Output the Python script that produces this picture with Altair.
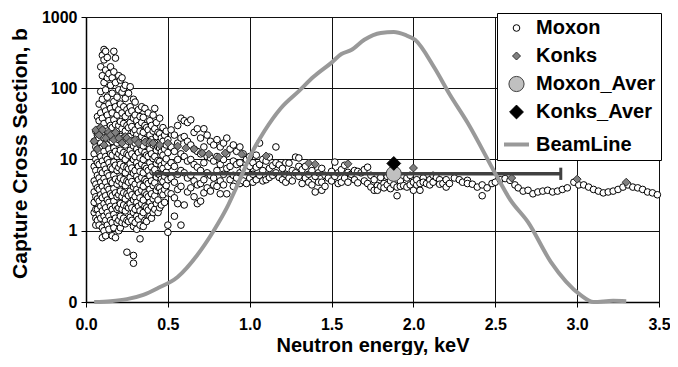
import altair as alt
import pandas as pd

# ---------------- data ----------------
series_names = ["Moxon", "Konks", "Moxon_Aver", "Konks_Aver", "BeamLine"]

# Moxon points, grouped by energy column (keV) -> cross sections (b)
moxon_low = [
    (0.05, [18, 12, 8, 5, 3.5, 2.5, 1.8]),
    (0.06, [25, 15, 10, 7, 4.5, 3, 2, 1.5, 1.2]),
    (0.07, [40, 22, 14, 9, 6, 4, 2.8, 2, 1.4]),
    (0.08, [60, 35, 20, 13, 8.5, 5.5, 3.8, 2.6, 1.7, 1.2]),
    (0.09, [200, 90, 45, 28, 17, 11, 7, 4.8, 3.2, 2.2, 1.5]),
    (0.10, [290, 150, 70, 38, 24, 15, 9.5, 6.5, 4.2, 2.9, 1.9, 1.1, 0.8]),
    (0.11, [350, 250, 120, 55, 32, 20, 13, 8.2, 5.4, 3.6, 2.4, 1.6, 1.0]),
    (0.12, [330, 180, 95, 48, 27, 17, 11, 7.3, 4.8, 3.1, 2.1, 1.4, 0.85]),
    (0.13, [270, 140, 75, 42, 25, 16, 10, 6.4, 4.1, 2.7, 1.8, 1.2]),
    (0.14, [160, 60, 35, 22, 14, 9, 5.9, 3.8, 2.5, 1.6, 1.05]),
    (0.15, [200, 110, 52, 30, 19, 12, 7.8, 5, 3.3, 2.2, 1.4]),
    (0.16, [140, 85, 45, 28, 18, 11.5, 7.4, 4.7, 3.1, 2, 1.3, 0.85]),
    (0.17, [330, 170, 65, 36, 23, 14.5, 9.2, 6, 3.9, 2.6, 1.7, 1.1]),
    (0.18, [265, 120, 55, 31, 20, 13, 8.3, 5.3, 3.4, 2.2, 1.5, 0.8]),
    (0.19, [75, 42, 26, 17, 11, 7, 4.5, 3, 2, 1.3]),
    (0.20, [150, 95, 50, 30, 19, 12, 7.7, 5, 3.2, 2.1, 1.4, 1.0]),
    (0.21, [130, 60, 34, 21, 13.5, 8.6, 5.5, 3.6, 2.4, 1.6, 1.1]),
    (0.22, [140, 88, 45, 27, 17, 11, 7, 4.6, 3, 2, 1.3]),
    (0.23, [100, 55, 32, 20, 12.5, 8, 5.2, 3.4, 2.3, 1.5]),
    (0.24, [110, 72, 40, 25, 16, 10, 6.5, 4.3, 2.8, 1.9, 1.25]),
    (0.25, [50, 30, 19, 12, 7.8, 5, 3.3, 2.2, 1.4, 0.5]),
    (0.26, [85, 45, 28, 18, 11.5, 7.4, 4.8, 3.1, 2.1, 1.35]),
    (0.27, [105, 55, 33, 21, 13.5, 8.7, 5.6, 3.6, 2.4, 1.55]),
    (0.28, [48, 29, 18.5, 12, 7.6, 4.9, 3.2, 2.1, 1.4]),
    (0.29, [70, 38, 24, 15.5, 10, 6.4, 4.1, 2.7, 1.8, 1.15, 0.45, 0.35]),
    (0.30, [64, 42, 26, 17, 11, 7, 4.5, 3, 2, 1.3]),
    (0.31, [35, 22, 14, 9, 5.8, 3.8, 2.5, 1.6, 1.05]),
    (0.32, [50, 30, 19, 12.5, 8, 5.2, 3.4, 2.2, 1.45]),
    (0.33, [40, 25, 16, 10.5, 6.8, 4.4, 2.9, 1.9, 1.2, 0.77]),
    (0.34, [55, 33, 21, 13.5, 8.7, 5.6, 3.7, 2.4, 1.6]),
    (0.35, [39, 24, 15.5, 10, 6.5, 4.2, 2.7, 1.8, 1.15]),
    (0.36, [52, 30, 19, 12.5, 8, 5.2, 3.4, 2.2, 1.4]),
    (0.37, [28, 18, 11.5, 7.5, 4.9, 3.2, 2.1, 1.35]),
    (0.38, [45, 26, 17, 11, 7, 4.6, 3, 1.95]),
    (0.39, [35, 22, 14, 9, 5.9, 3.8, 2.5, 1.6]),
    (0.40, [30, 19, 12, 7.8, 5, 3.3, 2.2, 1.5]),
    (0.41, [42, 25, 16, 10.3, 6.7, 4.3, 2.8, 1.8]),
    (0.42, [52, 27, 17, 11, 7.2, 4.7, 3.1, 2]),
    (0.43, [33, 21, 13.5, 8.8, 5.7, 3.7, 2.4]),
    (0.44, [24, 15, 9.7, 6.3, 4.1, 2.7, 1.8]),
    (0.45, [38, 23, 14.5, 9.4, 6.1, 4, 2.1]),
    (0.46, [20, 12.7, 8.2, 5.3, 3.5, 2.3]),
    (0.47, [28, 18, 11.5, 7.5, 4.9, 3.2]),
    (0.48, [22, 14, 9, 5.8, 3.8, 2.5]),
    (0.49, [25, 16, 10.2, 6.6, 4.3]),
    (0.50, [19, 12.5, 8, 5.2, 3.4, 1.2, 0.95]),
]
moxon_mid = [
    (0.52, [26, 15, 9, 5.5, 3.3]), (0.54, [22, 13, 8, 4.8, 2.9, 1.6]),
    (0.56, [30, 17, 10, 6.2, 3.8, 2.4]), (0.58, [38, 20, 12, 7, 4.2, 1.2]),
    (0.60, [35, 21, 11, 6.5, 2.3]), (0.62, [33, 18, 9.5, 5.5, 3.5]),
    (0.64, [36, 16, 10, 6, 4]), (0.66, [24, 14, 8.5, 5, 3]),
    (0.68, [27, 13, 7.8, 4.4, 2.4]), (0.70, [20, 12, 7, 4.6, 2.6]),
    (0.72, [27, 15, 9, 5.2, 3.4]), (0.74, [22, 11, 6.5, 4]),
    (0.76, [18, 10.5, 6, 3.6]), (0.78, [16, 9.5, 5.5, 4.4]),
    (0.80, [19, 11, 7, 4.2]), (0.82, [15, 8.5, 5, 3.3]),
    (0.84, [17, 10, 6.2, 4.4]), (0.86, [20, 12, 7.5, 3.3]),
    (0.88, [14, 8, 5.2]), (0.90, [16, 9.5, 6, 4.2]),
    (0.92, [13, 8.5, 5.5]), (0.94, [15, 9, 6.5, 4.6]),
    (0.96, [12, 7.5, 5]), (0.98, [10, 7, 4.6]),
    (1.00, [11, 8, 5.5]), (1.02, [9, 6.2, 4.8]),
    (1.04, [11.5, 7.8, 5.2]), (1.06, [17, 8.5, 6]),
    (1.08, [10, 7, 5]), (1.10, [9.5, 5.2]),
    (1.12, [10.8, 7.5, 5.6]), (1.14, [8.2, 6]),
    (1.16, [15, 9, 6.5]), (1.18, [8.4, 5.6]),
    (1.20, [7.5, 5.2]), (1.22, [9, 6.2, 4.8]),
    (1.24, [8.9, 5.5]), (1.26, [7, 5]),
    (1.28, [10.8, 6.5]), (1.30, [10.5, 8, 5.8]),
    (1.32, [7.2, 4.6]), (1.34, [8, 5.5]),
    (1.36, [6.2, 4.8]), (1.38, [7, 4.4]),
    (1.40, [5.8, 3.5]), (1.42, [6.5, 4.8]),
    (1.44, [7.5, 4.8, 3.7]), (1.46, [6, 4.2]),
    (1.48, [5.5]), (1.50, [6.8, 5]),
    (1.52, [9.2, 5.8]), (1.54, [6.5, 4.6]),
    (1.56, [7.2, 4.8]), (1.58, [8.3, 5.5]),
    (1.60, [6.6, 4.8]), (1.62, [6.2]),
    (1.64, [7, 5.2]), (1.66, [6.8, 4.7]),
    (1.68, [6.5]), (1.70, [7.2, 5]),
    (1.72, [7.8, 4.6]), (1.74, [6, 4.1]),
    (1.76, [5.2, 3.7]), (1.78, [4.3, 3.7]),
    (1.80, [5.6, 4.2]), (1.82, [4.6, 4]),
    (1.84, [5.8, 4.4]), (1.86, [5, 3.9]),
    (1.88, [5.5, 4.4]), (1.90, [4.1, 3.1]),
    (1.92, [5, 4.2]), (1.94, [4.3]),
    (1.96, [4.1, 5.5]), (1.98, [6, 4.4]),
    (2.00, [4.8, 3.7]), (2.02, [4.4, 5.2]),
    (2.04, [3.7, 4.6]), (2.06, [5.5, 4.8]),
    (2.08, [4.6]), (2.10, [5.2, 4.4]),
    (2.12, [6, 4.8]), (2.14, [5.6]),
    (2.16, [5.2, 4.5]), (2.18, [4.6]),
    (2.20, [5.2, 4.1]), (2.22, [4.6]),
]
moxon_high_x = [2.25, 2.28, 2.30, 2.33, 2.33, 2.36, 2.39, 2.42, 2.42, 2.45, 2.48,
                2.50, 2.53, 2.56, 2.59, 2.62, 2.64, 2.67, 2.70, 2.73, 2.76, 2.79,
                2.82, 2.85, 2.88, 2.91, 2.94, 2.98, 3.01, 3.04, 3.07, 3.10, 3.13,
                3.16, 3.19, 3.22, 3.25, 3.28, 3.31, 3.34, 3.37, 3.40, 3.43, 3.46, 3.49]
moxon_high_y = [5.5, 5.2, 4.8, 5.1, 4.6, 4.5, 4.1, 4.4, 3.1, 4.0, 4.6,
                4.8, 5.2, 5.4, 5.1, 4.4, 4.0, 3.6, 3.7, 3.3, 3.5, 3.6,
                3.7, 3.5, 3.6, 3.8, 4.0, 4.8, 4.4, 4.4, 4.1, 3.8, 3.6,
                3.4, 3.5, 3.6, 3.8, 4.1, 4.4, 4.1, 4.0, 3.8, 3.5, 3.4, 3.2]

konks_x = [0.05, 0.06, 0.07, 0.08, 0.09, 0.10, 0.11, 0.12, 0.14, 0.15, 0.17, 0.18,
           0.20, 0.22, 0.24, 0.25, 0.27, 0.30, 0.32, 0.36, 0.39, 0.41, 0.45, 0.50,
           0.56, 0.61, 0.66, 0.71, 0.75, 0.81, 0.85, 0.95, 1.10, 1.36, 1.40, 1.60,
           2.00, 2.60, 3.00, 3.30]
konks_y = [18, 26, 14, 22, 28, 26, 16, 20, 24, 22, 19, 24,
           20, 17, 21, 20, 18, 19, 17, 17.5, 17.5, 17, 16, 17,
           15.4, 14.5, 14, 12.3, 11.9, 10.8, 12.3, 11.9, 11.2, 8.9, 8.6, 8.7,
           7.6, 5.5, 5.3, 4.8]

aver_x = [1.88, 1.88]
aver_y = [6.3, 8.8]
aver_series = ["Moxon_Aver", "Konks_Aver"]
bar_lo, bar_hi, bar_y = 0.40, 2.90, 6.3

beam_x = [0.05, 0.15, 0.25, 0.35, 0.44, 0.56, 0.68, 0.78, 0.86, 0.92, 1.01, 1.09,
          1.19, 1.30, 1.39, 1.50, 1.56, 1.62, 1.70, 1.80, 1.88, 1.95, 2.01, 2.13,
          2.22, 2.33, 2.52, 2.59, 2.70, 2.84, 3.02, 3.10, 3.22, 3.30]
beam_y = [0, 0.3, 1.0, 2.5, 4.9, 8.8, 16.5, 25, 33, 40.4, 52, 60,
          68, 74, 79, 84, 87, 88.4, 92, 94.4, 94.7, 93.7, 92, 82,
          73, 63, 43, 36, 28, 14, 2.5, 0, 0.4, 0.3]

# ---------------- tables ----------------
mx, my = [], []
for x, ys in moxon_low + moxon_mid:
    for v in ys:
        mx.append(x)
        my.append(v)
mx += moxon_high_x
my += moxon_high_y
moxon_df = pd.DataFrame({"x": mx, "y": my, "series": "Moxon"})
konks_df = pd.DataFrame({"x": konks_x, "y": konks_y, "series": "Konks"})
aver_df = pd.DataFrame({"x": aver_x, "y": aver_y, "series": aver_series})
bar_df = pd.DataFrame({"lo": [bar_lo], "hi": [bar_hi], "y": [bar_y]})
beam_df = pd.DataFrame({"x": beam_x, "b": beam_y, "series": "BeamLine"})

FONT = "Liberation Sans"

x_enc = alt.X("x:Q", scale=alt.Scale(domain=[0, 3.5], nice=False, padding=0),
              axis=alt.Axis(values=[0, 0.5, 1, 1.5, 2, 2.5, 3, 3.5], format=".1f",
                            title="Neutron energy, keV"))
y_scale = alt.Scale(type="log", domain=[0.1, 1000], nice=False, padding=0)
y_enc = alt.Y("y:Q", scale=y_scale,
              axis=alt.Axis(values=[0.1, 1, 10, 100, 1000],
                            labelExpr="datum.value < 0.5 ? '0' : format(datum.value, '.0f')",
                            title="Capture Cross Section, b",
                            titleX=-66, titleY=136, titleAngle=270,
                            titleAlign="center", titleBaseline="middle",
                            titleFontSize=21))

fill_enc = alt.Fill("series:N", title=None,
                    scale=alt.Scale(domain=series_names,
                                    range=["#ffffff", "#808080", "#c0c0c0", "#000000", "#999999"]))
stroke_enc = alt.Stroke("series:N", title=None,
                        scale=alt.Scale(domain=series_names,
                                        range=["#000000", "#333333", "#404040", "#000000", "#999999"]))
shape_enc = alt.Shape("series:N", title=None,
                      scale=alt.Scale(domain=series_names,
                                      range=["circle", "diamond", "circle", "diamond", "stroke"]))
size_enc = alt.Size("series:N", title=None,
                    scale=alt.Scale(type="ordinal", domain=series_names,
                                    range=[44, 64, 230, 190, 625]))
sw_enc = alt.StrokeWidth("series:N", title=None,
                         scale=alt.Scale(type="ordinal", domain=series_names,
                                         range=[1, 1, 1, 1, 4]))

def pts(df):
    return alt.Chart(df).mark_point(filled=True, opacity=1, strokeWidth=1).encode(
        x=x_enc, y=y_enc, fill=fill_enc, stroke=stroke_enc, shape=shape_enc, size=size_enc)

moxon = pts(moxon_df)
konks = pts(konks_df)
bar = alt.Chart(bar_df).mark_rule(color="#404040", strokeWidth=3.5).encode(
    x=alt.X("lo:Q"), x2="hi:Q", y=alt.Y("y:Q"))
cap = alt.Chart(bar_df).mark_point(shape="M0,-1L0,1", size=150, strokeWidth=3,
                                   color="#404040", opacity=1).encode(
    x=alt.X("hi:Q"), y=alt.Y("y:Q"))
aver = pts(aver_df)

points = alt.layer(moxon, konks, bar, cap, aver)

beam = alt.Chart(beam_df).mark_line(interpolate="monotone").encode(
    x=alt.X("x:Q"),
    y=alt.Y("b:Q", scale=alt.Scale(domain=[0, 100], nice=False), axis=None),
    stroke=stroke_enc,
    strokeWidth=sw_enc,
)

chart = alt.layer(points, beam).resolve_scale(y="independent").properties(
    width=573, height=285,
    autosize=alt.AutoSizeParams(type="none"),
    padding={"left": 78, "top": 9, "right": 11, "bottom": 53},
).configure_view(stroke=None).configure_axis(
    labelFont=FONT, labelFontWeight="bold", labelFontSize=16, labelColor="black",
    titleFont=FONT, titleFontWeight="bold", titleFontSize=20, titleColor="black",
    domainColor="black", domainWidth=1.5, tickColor="black", tickSize=5,
    gridColor="#111111", gridWidth=1, gridOpacity=1, labelPadding=4,
    labelFlush=False, labelOverlap=False,
).configure_axisX(titlePadding=3, labelPadding=9).configure_legend(
    orient="none", legendX=411, legendY=-4, labelFont=FONT, labelFontWeight="bold",
    labelFontSize=20, labelColor="black", strokeColor="black", fillColor="white",
    padding=5, rowPadding=8, labelOffset=5, symbolOpacity=1,
)

chart.save("out.html", embed_options={"renderer": "svg", "actions": False})
